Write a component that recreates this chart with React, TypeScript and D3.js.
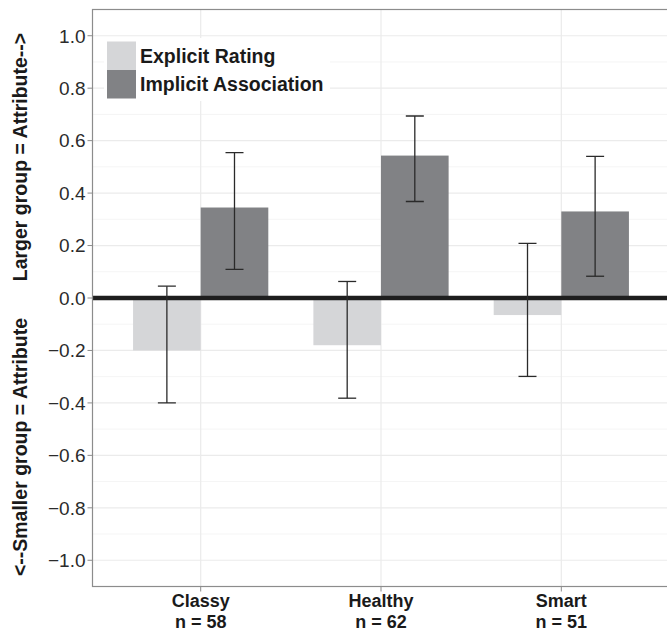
import React from "react";
import * as d3 from "d3";

const categories = ["Classy", "Healthy", "Smart"];
const sampleSizes = [58, 62, 51];
const seriesNames = ["Explicit Rating", "Implicit Association"];
const explicitValues = [-0.2, -0.18, -0.065];
const explicitLower = [-0.4, -0.382, -0.299];
const explicitUpper = [0.045, 0.063, 0.208];
const implicitValues = [0.345, 0.543, 0.33];
const implicitLower = [0.109, 0.368, 0.083];
const implicitUpper = [0.554, 0.694, 0.54];
const yTicks = [-1.0, -0.8, -0.6, -0.4, -0.2, 0.0, 0.2, 0.4, 0.6, 0.8, 1.0];
const yMinor = [-0.9, -0.7, -0.5, -0.3, -0.1, 0.1, 0.3, 0.5, 0.7, 0.9];

const W = 667;
const H = 632;
const left = 92.5;
const right = 669.5;
const top = 9.5;
const bottom = 586.5;
const colors = ["#d5d6d8", "#818285"];
const font = "'Liberation Sans', Arial, Helvetica, sans-serif";
const titleSize = 19.5;
const xLabelSize = 18;

export default function App() {
  const y = d3.scaleLinear().domain([-1.1, 1.1]).range([bottom, top]);
  const step = (right - left) / 3.2;
  const x = d3
    .scalePoint<string>()
    .domain(categories)
    .range([left + 0.6 * step, right - 0.6 * step]);
  const groupW = step * 0.75;
  const inner = d3
    .scaleBand<number>()
    .domain([0, 1])
    .range([-groupW / 2, groupW / 2])
    .padding(0);
  const capW = 18;

  const series = [
    { values: explicitValues, lo: explicitLower, hi: explicitUpper },
    { values: implicitValues, lo: implicitLower, hi: implicitUpper },
  ];

  return (
    <svg width={W} height={H} style={{ position: "absolute", left: 0, top: 0 }}>
      <rect x={0} y={0} width={W} height={H} fill="#fff" />
      <defs>
        <clipPath id="panel">
          <rect x={left} y={top} width={right - left} height={bottom - top} />
        </clipPath>
      </defs>
      <g clipPath="url(#panel)">
        {yMinor.map((t) => (
          <line key={"mn" + t} x1={left} x2={right} y1={y(t)} y2={y(t)} stroke="#f5f5f5" strokeWidth={1} />
        ))}
        {yTicks.map((t) => (
          <line key={"mj" + t} x1={left} x2={right} y1={y(t)} y2={y(t)} stroke="#ebebeb" strokeWidth={1.2} />
        ))}
        {categories.map((c) => (
          <line key={"vx" + c} x1={x(c)} x2={x(c)} y1={top} y2={bottom} stroke="#ebebeb" strokeWidth={1.2} />
        ))}
        {series.map((s, si) =>
          categories.map((c, ci) => {
            const v = s.values[ci];
            const bx = (x(c) as number) + (inner(si) as number);
            return (
              <rect
                key={"b" + si + c}
                x={bx}
                width={inner.bandwidth()}
                y={Math.min(y(v), y(0))}
                height={Math.abs(y(v) - y(0))}
                fill={colors[si]}
              />
            );
          })
        )}
        <line x1={left} x2={right} y1={y(0)} y2={y(0)} stroke="#1e1e1e" strokeWidth={4.5} />
        {series.map((s, si) =>
          categories.map((c, ci) => {
            const cx = (x(c) as number) + (inner(si) as number) + inner.bandwidth() / 2;
            return (
              <g key={"e" + si + c} stroke="#2a2a2a" strokeWidth={1.3}>
                <line x1={cx} x2={cx} y1={y(s.lo[ci])} y2={y(s.hi[ci])} />
                <line x1={cx - capW / 2} x2={cx + capW / 2} y1={y(s.lo[ci])} y2={y(s.lo[ci])} />
                <line x1={cx - capW / 2} x2={cx + capW / 2} y1={y(s.hi[ci])} y2={y(s.hi[ci])} />
              </g>
            );
          })
        )}
        {/* legend */}
        <rect x={104} y={38} width={226} height={63} fill="#fff" />
        {seriesNames.map((n, i) => (
          <g key={"lg" + n}>
            <rect x={107} y={41.5 + i * 28.5} width={29} height={28.5} fill={colors[i]} />
            <text
              x={140}
              y={63 + i * 28}
              fontFamily={font}
              fontWeight="bold"
              fontSize={titleSize}
              fill="#1a1a1a"
            >
              {n}
            </text>
          </g>
        ))}
      </g>
      {/* panel border */}
      <rect x={left} y={top} width={right - left} height={bottom - top} fill="none" stroke="#8c8c8c" strokeWidth={1.2} />
      {/* y axis */}
      {yTicks.map((t) => (
        <g key={"yt" + t}>
          <line x1={left - 5} x2={left} y1={y(t)} y2={y(t)} stroke="#8c8c8c" strokeWidth={1} />
          <text
            x={left - 7}
            y={y(t)}
            dy="0.36em"
            textAnchor="end"
            fontFamily={font}
            fontSize={19}
            fill="#2b2b2b"
          >
            {t.toFixed(1).replace("-", "\u2212")}
          </text>
        </g>
      ))}
      {/* x axis */}
      {categories.map((c, i) => (
        <g key={"xt" + c}>
          <line x1={x(c)} x2={x(c)} y1={bottom} y2={bottom + 5} stroke="#8c8c8c" strokeWidth={1} />
          <text x={x(c)} y={606.5} textAnchor="middle" fontFamily={font} fontWeight="bold" fontSize={xLabelSize} fill="#1a1a1a">
            {c}
          </text>
          <text x={x(c)} y={627.5} textAnchor="middle" fontFamily={font} fontWeight="bold" fontSize={xLabelSize} fill="#1a1a1a">
            {"n = " + sampleSizes[i]}
          </text>
        </g>
      ))}
      {/* y axis titles */}
      <text
        transform={`translate(27,157) rotate(-90)`}
        textAnchor="middle"
        fontFamily={font}
        fontWeight="bold"
        fontSize={titleSize}
        fill="#1a1a1a"
      >
        Larger group = Attribute--&gt;
      </text>
      <text
        transform={`translate(27,447) rotate(-90)`}
        textAnchor="middle"
        fontFamily={font}
        fontWeight="bold"
        fontSize={titleSize}
        fill="#1a1a1a"
      >
        &lt;--Smaller group = Attribute
      </text>
    </svg>
  );
}
